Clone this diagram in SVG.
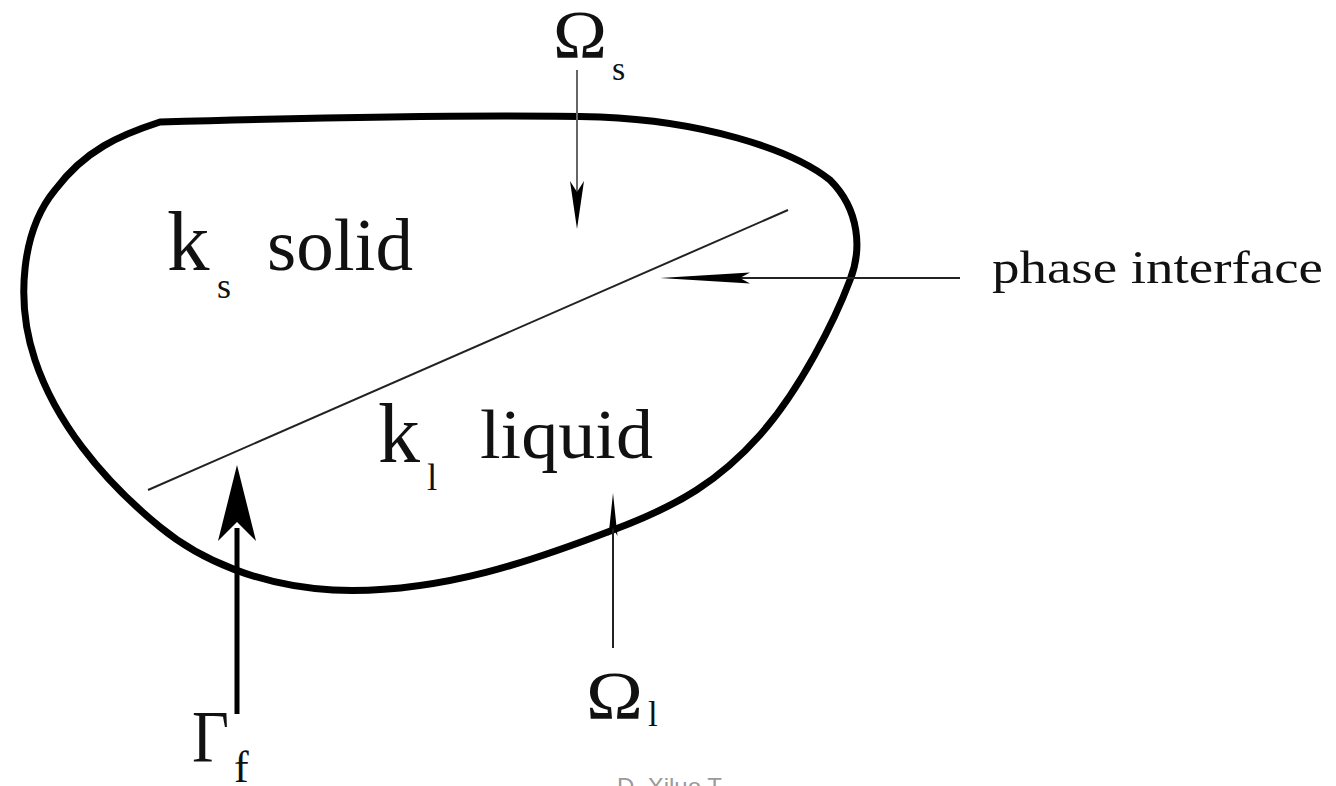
<svg xmlns="http://www.w3.org/2000/svg" width="1336" height="786" viewBox="0 0 1336 786">
  <style>
    .t { fill: #111; }
    .blob { fill: none; stroke: #000; stroke-width: 7; stroke-linejoin: round; }
    .thin { stroke: #222; stroke-width: 2; fill: none; }
    .head { fill: #000; stroke: none; }
  </style>
  <rect width="1336" height="786" fill="#fff"/>

  <g id="domain">
    <path class="blob" d="M160,122 C300,118 480,114 600,117 C700,121 790,148 830,180 C860,210 862,250 850,280 C835,320 800,390 760,435 C720,480 680,505 613,530 C540,558 440,595 333,590 C260,586 200,560 160,527 C100,478 55,420 35,360 C15,300 22,230 55,190 C85,150 120,135 160,122 Z"/>
    <line class="thin" x1="148" y1="490" x2="788" y2="210" stroke-width="1.8"/>
  </g>

  <g font-family="Liberation Serif, Times New Roman, serif">
  <g id="solid-label">
    <text class="t" x="167" y="270" font-size="85">k</text>
    <text class="t" x="217" y="298" font-size="36">s</text>
    <text class="t" x="267" y="270" font-size="73" textLength="146" lengthAdjust="spacingAndGlyphs">solid</text>
  </g>

  <g id="liquid-label">
    <text class="t" x="378" y="462" font-size="84">k</text>
    <text class="t" x="427" y="490" font-size="37">l</text>
    <text class="t" x="480" y="458" font-size="70" textLength="173" lengthAdjust="spacingAndGlyphs">liquid</text>
  </g>

  <g id="omega-s">
    <text class="t" x="553" y="57" font-size="68" textLength="54" lengthAdjust="spacingAndGlyphs">Ω</text>
    <text class="t" x="612" y="80" font-size="34">s</text>
  </g>

  <g id="phase-interface-label">
    <text class="t" x="992" y="283" font-size="46" textLength="331" lengthAdjust="spacingAndGlyphs">phase interface</text>
  </g>

  <g id="omega-l">
    <text class="t" x="586" y="718" font-size="68" textLength="57" lengthAdjust="spacingAndGlyphs">Ω</text>
    <text class="t" x="648" y="726" font-size="35">l</text>
  </g>

  <g id="gamma-f">
    <text class="t" x="192" y="762" font-size="74" textLength="37" lengthAdjust="spacingAndGlyphs">Γ</text>
    <text class="t" x="234" y="782" font-size="44">f</text>
  </g>
  </g>

  <g id="connectors">
    <line x1="577" y1="70" x2="577" y2="195" stroke="#666" stroke-width="2"/>
    <path class="head" d="M577,229 L570,181 L577,192 L584,181 Z"/>
    <line class="thin" x1="960" y1="278" x2="700" y2="278" stroke-width="1.8"/>
    <path class="head" d="M660,278 L750,272.5 L740,278 L750,283.5 Z"/>
    <line class="thin" x1="613" y1="648" x2="613" y2="520"/>
    <path class="head" d="M613,493 L617.5,536 L613,528 L608.5,536 Z"/>
    <line x1="237" y1="714" x2="237" y2="528" stroke="#000" stroke-width="5"/>
    <path class="head" d="M237,465 L256,541 L237,522 L218,541 Z"/>
  </g>

  <text x="617" y="795" font-family="Liberation Sans, Arial, sans-serif" font-size="24" fill="#9a9a9a">D. Xiluo T</text>
</svg>
